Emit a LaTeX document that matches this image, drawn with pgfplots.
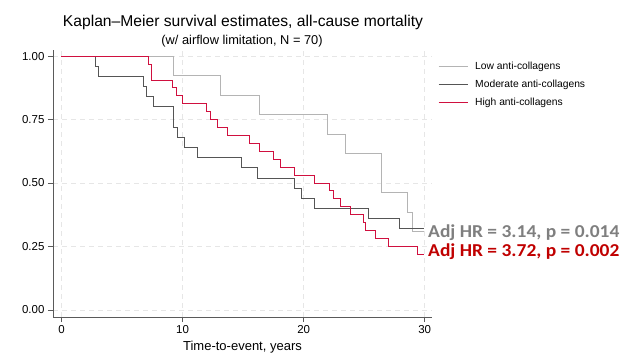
\documentclass[border=0pt]{standalone}
\usepackage{pgfplots}
\pgfplotsset{compat=1.18}
\usepackage{fontspec}
\setmainfont{Liberation Sans}
\newfontfamily\calibri{Carlito}
\definecolor{lowc}{HTML}{B4B4B4}
\definecolor{modc}{HTML}{555555}
\definecolor{highc}{HTML}{D0103F}
\definecolor{gridc}{HTML}{E6E6E6}
\definecolor{spinec}{HTML}{5A5A5A}
\definecolor{annogray}{HTML}{7F7F7F}
\definecolor{annored}{HTML}{C00000}
\begin{document}
\begin{tikzpicture}[x=1pt,y=1pt]
\path[use as bounding box] (0,0) rectangle (623,354);
\begin{axis}[
  at={(53pt,37pt)}, anchor=south west,
  scale only axis, width=379pt, height=267pt,
  xmin=-0.7, xmax=30.6, ymin=-0.028, ymax=1.024,
  axis x line*=bottom, axis y line*=left,
  axis line style={spinec, line width=0.8pt},
  xtick={0,10,20,30}, ytick={0,0.25,0.5,0.75,1},
  tick align=outside, major tick length=5pt,
  tick style={spinec, line width=0.7pt},
  yticklabel style={/pgf/number format/.cd, fixed, fixed zerofill, precision=2},
  /pgf/number format/assume math mode=true,
  ticklabel style={font=\fontsize{11.5}{13}\selectfont},
  grid=major, grid style={gridc, dash pattern=on 5pt off 4pt, line width=0.6pt},
  legend style={at={(1.008,0.969)}, anchor=north west, draw=none, fill=none,
    font=\fontsize{10.3}{12}\selectfont, row sep=4.6pt, column sep=5pt, legend cell align=left},
  legend image code/.code={\draw[#1, line width=1pt] (0pt,0pt) -- (29pt,0pt);},
  clip=false,
]
\addplot[const plot, lowc, line width=0.8pt] coordinates {
(0,1) (9.26,0.923) (13.15,0.846) (16.35,0.769) (21.92,0.692) (23.41,0.615)
(26.42,0.462) (28.54,0.385) (29.0,0.308) (29.95,0.308)};
\addlegendentry{Low anti-collagens}
\addplot[const plot, modc, line width=0.8pt] coordinates {
(0,1) (2.77,0.96) (3.08,0.92) (6.77,0.88) (7.0,0.84) (7.63,0.80) (9.26,0.72)
(9.59,0.68) (10.17,0.64) (11.22,0.60) (14.83,0.56) (16.16,0.52) (19.27,0.48)
(19.83,0.44) (20.85,0.40) (25.35,0.36) (27.88,0.32) (29.95,0.32)};
\addlegendentry{Moderate anti-collagens}
\addplot[const plot, highc, line width=0.8pt] coordinates {
(0,1) (7.19,0.969) (7.40,0.906) (9.20,0.875) (9.53,0.844) (10.0,0.8125)
(11.96,0.781) (12.27,0.75) (12.85,0.719) (13.67,0.6875) (15.55,0.656)
(16.38,0.625) (17.51,0.594) (18.12,0.5625) (19.25,0.531) (20.9,0.5)
(22.14,0.469) (22.42,0.4375) (23.0,0.406) (23.83,0.375) (24.96,0.344)
(25.13,0.3125) (25.95,0.281) (27.0,0.25) (29.4,0.219) (29.95,0.219)};
\addlegendentry{High anti-collagens}
\end{axis}
\node[anchor=base, font=\fontsize{15.65}{18}\selectfont] at (243,327.3) {Kaplan--Meier survival estimates, all-cause mortality};
\node[anchor=base, font=\fontsize{12.8}{14}\selectfont] at (242,309.7) {(w/ airflow limitation, N = 70)};
\node[anchor=base, font=\fontsize{13}{15}\selectfont] at (242.5,3.2) {Time-to-event, years};
\node[anchor=base west, inner sep=0pt, font=\calibri\bfseries\fontsize{18.2}{20}\selectfont, text=annogray] at (428,116.3) {\scalebox{1.07}[1]{Adj HR = 3.14, p = 0.014}};
\node[anchor=base west, inner sep=0pt, font=\calibri\bfseries\fontsize{18.2}{20}\selectfont, text=annored] at (428,98) {\scalebox{1.07}[1]{Adj HR = 3.72, p = 0.002}};
\end{tikzpicture}
\end{document}
